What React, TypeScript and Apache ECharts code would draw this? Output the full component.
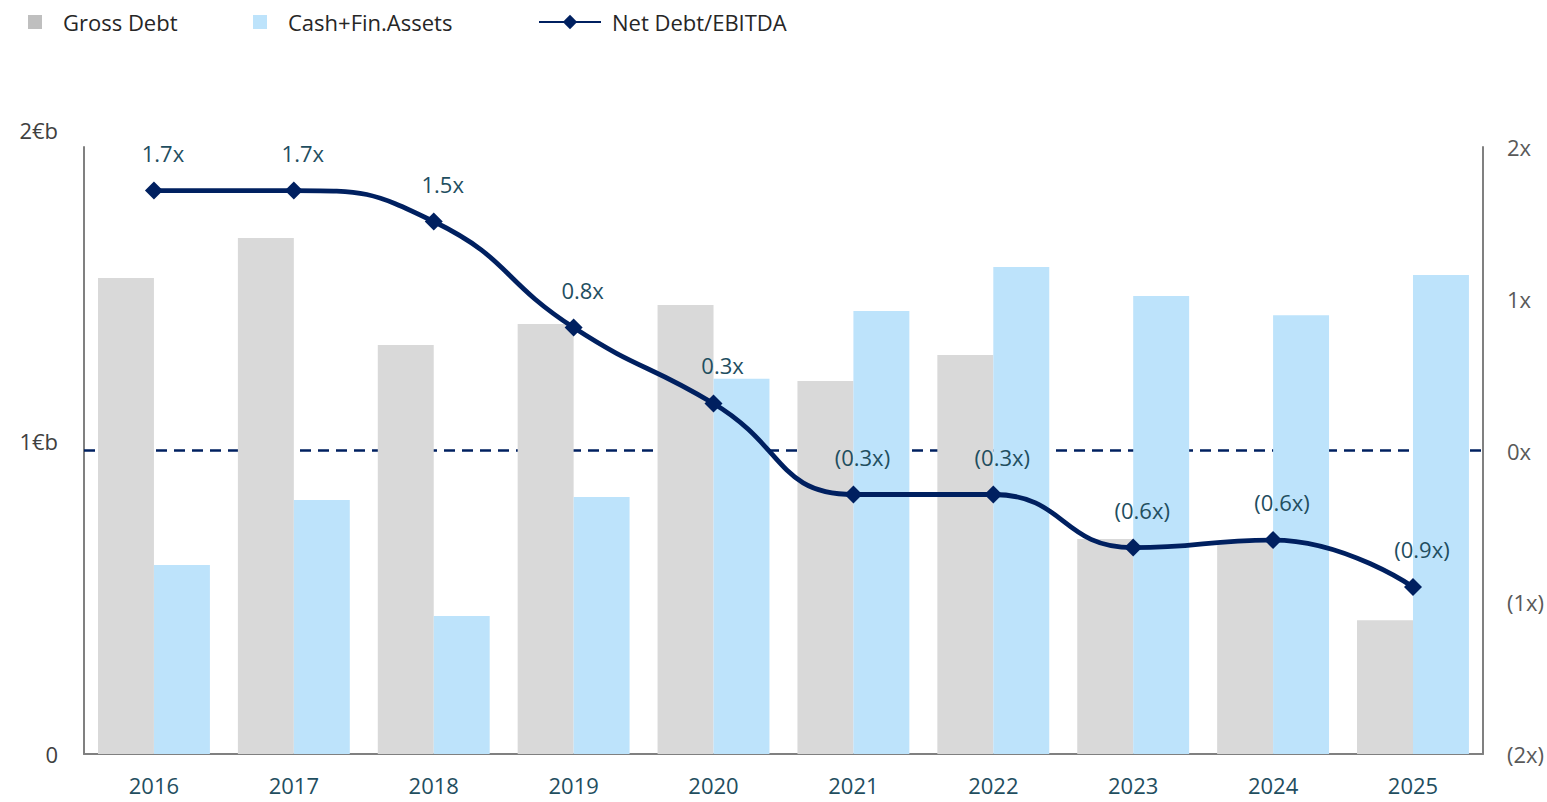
import React, { useEffect, useRef } from "react";
import * as echarts from "echarts";

const years = ["2016", "2017", "2018", "2019", "2020", "2021", "2022", "2023", "2024", "2025"];
const grossDebt = [1.568, 1.7, 1.348, 1.417, 1.479, 1.229, 1.315, 0.708, 0.695, 0.441];
const cashFin = [0.623, 0.837, 0.455, 0.847, 1.236, 1.46, 1.605, 1.509, 1.446, 1.578];
const netDebtEbitda = [1.713, 1.713, 1.509, 0.81, 0.31, -0.29, -0.29, -0.64, -0.59, -0.9];
const leftTicks = ["0", "1€b", "2€b"];

const FONT = "'Open Sans', 'Noto Sans', sans-serif";
const NAVY = "#002060";
const TEAL = "#1f4e5f";
const FS = 22;

function fmtX(v: number) {
  const s = Math.abs(v).toFixed(1) + "x";
  return v < 0 ? "(" + s + ")" : s;
}
function fmtAxisX(v: number) {
  const s = Math.abs(v).toFixed(0) + "x";
  return v < 0 ? "(" + s + ")" : s;
}

export default function App() {
  const ref = useRef<HTMLDivElement>(null);
  useEffect(() => {
    const chart = echarts.init(ref.current!, null, { renderer: "svg" });
    const legendText = {
      color: "#262626",
      fontFamily: FONT,
      fontSize: FS,
      rich: { a: { padding: [0, 0, 0, 16], color: "#262626", fontFamily: FONT, fontSize: FS } },
    };
    chart.setOption({
      animation: false,
      legend: [
        {
          data: [{ name: "Gross Debt", itemStyle: { color: "#bfbfbf" } }],
          left: 23, top: 6, itemWidth: 14, itemHeight: 14, icon: "rect",
          formatter: "{a|{name}}", textStyle: legendText,
        },
        {
          data: [{ name: "Cash+Fin.Assets", itemStyle: { color: "#bde3fb" } }],
          left: 248, top: 6, itemWidth: 14, itemHeight: 14, icon: "rect",
          formatter: "{a|{name}}", textStyle: legendText,
        },
        {
          data: ["Net Debt/EBITDA"],
          left: 533, top: 6, itemWidth: 62, itemHeight: 18,
          formatter: "{b|{name}}",
          textStyle: { ...legendText, rich: { b: { padding: [0, 0, 0, 6], color: "#262626", fontFamily: FONT, fontSize: FS } } },
        },
      ],
      grid: { left: 84, right: 61, top: 147, bottom: 48, containLabel: false },
      xAxis: {
        type: "category",
        data: years,
        axisLine: { show: true, lineStyle: { color: "#808080", width: 2 } },
        axisTick: { show: false },
        axisLabel: { color: TEAL, fontFamily: FONT, fontSize: FS, margin: 20 },
      },
      yAxis: [
        {
          type: "value",
          min: 0, max: 2, interval: 1,
          splitLine: { show: false },
          axisTick: { show: false },
          axisLine: { show: true, lineStyle: { color: "#808080", width: 2 } },
          axisLabel: {
            margin: 26,
            formatter: (v: number) => {
              const t = leftTicks[Math.round(v)];
              return v === 0 ? "{z|" + t + "}" : v === 1 ? "{o|" + t + "}" : "{t|" + t + "}";
            },
            rich: {
              z: { color: "#404040", fontFamily: FONT, fontSize: FS },
              o: { color: "#404040", fontFamily: FONT, fontSize: FS, padding: [0, 0, 20, 0] },
              t: { color: "#404040", fontFamily: FONT, fontSize: FS, padding: [0, 0, 34, 0] },
            },
          },
        },
        {
          type: "value",
          min: -2, max: 2, interval: 1,
          position: "right",
          splitLine: { show: false },
          axisTick: { show: false },
          axisLine: { show: true, lineStyle: { color: "#808080", width: 2 } },
          axisLabel: {
            margin: 24, color: "#595959", fontFamily: FONT, fontSize: FS,
            formatter: (v: number) => fmtAxisX(v),
          },
        },
      ],
      series: [
        {
          name: "zero",
          type: "line",
          data: [],
          yAxisIndex: 1,
          z: 1,
          silent: true,
          markLine: {
            silent: true,
            z: 1,
            symbol: "none",
            label: { show: false },
            lineStyle: { color: NAVY, type: [11, 7], width: 2.5 },
            data: [{ yAxis: 0 }],
          },
        },
        {
          name: "Gross Debt",
          type: "bar",
          data: grossDebt,
          barGap: "0%",
          barCategoryGap: "20%",
          itemStyle: { color: "#d9d9d9" },
          z: 10,
        },
        {
          name: "Cash+Fin.Assets",
          type: "bar",
          data: cashFin,
          itemStyle: { color: "#bde3fb" },
          z: 10,
        },
        {
          name: "Net Debt/EBITDA",
          type: "line",
          yAxisIndex: 1,
          data: netDebtEbitda,
          smooth: 0.5,
          symbol: "diamond",
          symbolSize: 18,
          z: 20,
          lineStyle: { color: NAVY, width: 4.8 },
          itemStyle: { color: NAVY },
          label: {
            show: true,
            position: "top",
            distance: 18,
            offset: [9, 0],
            color: TEAL,
            fontFamily: FONT,
            fontSize: FS,
            formatter: (p: any) => fmtX(p.value),
          },
        },
      ],
    });
    return () => chart.dispose();
  }, []);
  return (
    <div
      ref={ref}
      style={{ position: "fixed", left: 0, top: 0, width: 1547, height: 802, background: "#fff" }}
    />
  );
}
